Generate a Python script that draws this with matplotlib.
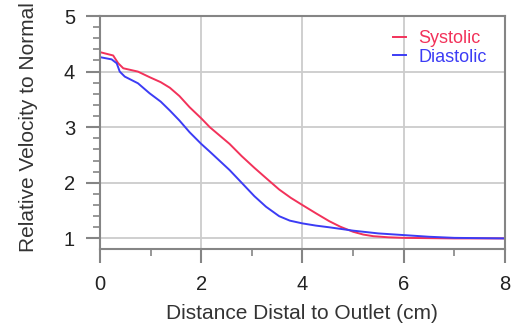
import matplotlib
matplotlib.use('Agg')
import matplotlib.pyplot as plt
from matplotlib.ticker import MultipleLocator

plt.rcParams['font.family'] = ['Liberation Sans', 'DejaVu Sans']

# values
sys_x = [0, 0.26, 0.36, 0.46, 0.75, 0.98, 1.2, 1.38, 1.57, 1.77, 2.0, 2.17,
         2.56, 2.8, 3.05, 3.3, 3.54, 3.77, 4.0, 4.27, 4.53, 4.75, 5.0, 5.2,
         5.4, 5.7, 6.0, 6.5, 7.0, 8.0]
sys_y = [4.35, 4.29, 4.15, 4.06, 4.0, 3.9, 3.81, 3.71, 3.56, 3.36, 3.16, 3.0,
         2.7, 2.48, 2.27, 2.07, 1.88, 1.73, 1.6, 1.45, 1.31, 1.21, 1.12, 1.07,
         1.04, 1.02, 1.01, 1.005, 1.0, 1.0]

dia_x = [0, 0.23, 0.33, 0.39, 0.49, 0.75, 0.98, 1.2, 1.38, 1.57, 1.77, 2.0,
         2.17, 2.56, 2.8, 3.05, 3.28, 3.54, 3.75, 4.0, 4.27, 4.53, 5.0, 5.5,
         6.0, 6.5, 7.0, 8.0]
dia_y = [4.26, 4.22, 4.15, 4.0, 3.91, 3.79, 3.61, 3.46, 3.3, 3.12, 2.91, 2.7,
         2.56, 2.23, 2.0, 1.76, 1.57, 1.4, 1.32, 1.27, 1.23, 1.2, 1.14, 1.09,
         1.06, 1.03, 1.01, 1.0]

red = '#f2325a'
blue = '#3c3cf5'
gray = '#858585'

fig = plt.figure(figsize=(5.11, 3.30), dpi=100)
ax = fig.add_axes([0.1957, 0.2455, 0.7923, 0.706])

ax.plot(sys_x, sys_y, color=red, lw=1.4, label='Systolic')
ax.plot(dia_x, dia_y, color=blue, lw=1.4, label='Diastolic')

ax.set_xlim(0, 8)
ax.set_ylim(0.81, 5)
ax.xaxis.set_major_locator(MultipleLocator(2))
ax.xaxis.set_minor_locator(MultipleLocator(1))
ax.yaxis.set_major_locator(MultipleLocator(1))
ax.yaxis.set_minor_locator(MultipleLocator(0.2))

ax.grid(True, which='major', color='#cccccc', lw=1.3)
ax.set_axisbelow(True)
for s in ax.spines.values():
    s.set_color(gray)
    s.set_linewidth(1.5)

ax.tick_params(which='major', length=10, width=1.5, color=gray,
               labelsize=14.5, labelcolor='#222222', pad=8)
ax.tick_params(which='minor', length=5, width=1.2, color=gray)
ax.tick_params(axis='x', which='major', pad=9)

ax.set_xlabel('Distance Distal to Outlet (cm)', fontsize=15, color='#333333',
              labelpad=7)
ax.set_ylabel('Relative Velocity to Normal', fontsize=15, color='#333333')
ax.yaxis.set_label_coords(-0.152, 0.525)

ax.legend(loc='upper right', frameon=False, handlelength=0.72,
          handletextpad=0.7, labelcolor='linecolor', fontsize=13,
          borderpad=0, borderaxespad=0, labelspacing=0.1,
          bbox_to_anchor=(0.956, 0.94))

fig.savefig('out.png', dpi=100)
